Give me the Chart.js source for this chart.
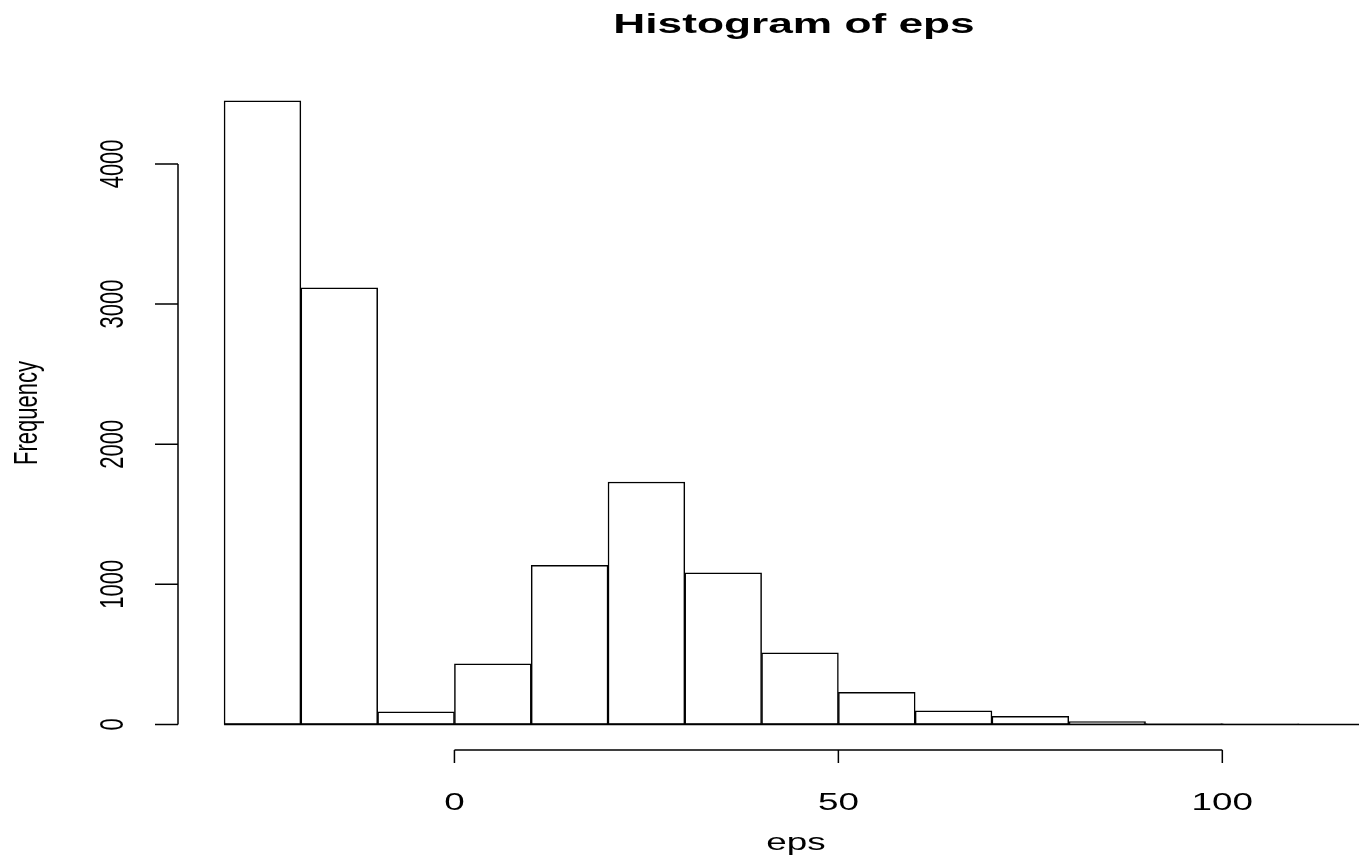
<!DOCTYPE html>
<html lang="en">
<head>
    <meta charset="UTF-8">
    <title>Histogram of eps</title>
    <script src="https://cdn.jsdelivr.net/npm/chart.js@4.4.1/dist/chart.umd.min.js"></script>
    <style>
        html, body { margin: 0; padding: 0; background: #ffffff; }
        #wrap { width: 1359px; height: 862px; }
    </style>
</head>
<body>
    <div id="wrap"><canvas id="hist" width="1359" height="862"></canvas></div>
    <script>
        // bin left edges (width 10) and counts
        const binStarts = [-30, -20, -10, 0, 10, 20, 30, 40, 50, 60, 70, 80, 90, 100];
        const counts = [4450, 3115, 91, 432, 1136, 1730, 1083, 512, 230, 98, 58, 20, 7, 5];
        const binWidth = 10;
        const xTicks = [0, 50, 100];
        const yTicks = [0, 1000, 2000, 3000, 4000];

        const FONT = "'Liberation Sans', Arial, sans-serif";

        // draws text squeezed/stretched horizontally like the original image
        function stretchedText(ctx, text, x, y, sx, rotate) {
            ctx.save();
            ctx.translate(x, y);
            ctx.scale(sx, 1);
            if (rotate) ctx.rotate(-Math.PI / 2);
            ctx.fillText(text, 0, 0);
            ctx.restore();
        }

        const rAxes = {
            id: 'rAxes',
            afterDraw(chart) {
                const ctx = chart.ctx;
                const xs = chart.scales.x;
                const ys = chart.scales.y;
                const area = chart.chartArea;
                ctx.save();
                ctx.strokeStyle = '#000';
                ctx.fillStyle = '#000';
                ctx.lineWidth = 1.5;

                // baseline of zero-height bins
                const y0 = ys.getPixelForValue(0);
                ctx.beginPath();
                ctx.moveTo(xs.getPixelForValue(binStarts[0]), y0);
                ctx.lineTo(area.right, y0);
                ctx.stroke();

                // x axis, R style
                const ax = area.bottom;
                ctx.beginPath();
                ctx.moveTo(xs.getPixelForValue(xTicks[0]), ax);
                ctx.lineTo(xs.getPixelForValue(xTicks[xTicks.length - 1]), ax);
                xTicks.forEach(t => {
                    const px = xs.getPixelForValue(t);
                    ctx.moveTo(px, ax);
                    ctx.lineTo(px, ax + 13);
                });
                ctx.stroke();
                ctx.font = '23px ' + FONT;
                ctx.textAlign = 'center';
                ctx.textBaseline = 'alphabetic';
                xTicks.forEach(t => {
                    stretchedText(ctx, String(t), xs.getPixelForValue(t), 810, 1.6, false);
                });

                // y axis
                const ay = area.left;
                ctx.beginPath();
                ctx.moveTo(ay, ys.getPixelForValue(yTicks[0]));
                ctx.lineTo(ay, ys.getPixelForValue(yTicks[yTicks.length - 1]));
                yTicks.forEach(t => {
                    const py = ys.getPixelForValue(t);
                    ctx.moveTo(ay, py);
                    ctx.lineTo(ay - 23, py);
                });
                ctx.stroke();
                ctx.font = '22px ' + FONT;
                ctx.textBaseline = 'middle';
                yTicks.forEach(t => {
                    stretchedText(ctx, String(t), 114, ys.getPixelForValue(t), 1.5, true);
                });

                // axis titles
                stretchedText(ctx, 'Frequency', 28, (area.top + area.bottom) / 2, 1.5, true);
                ctx.font = '23px ' + FONT;
                ctx.textBaseline = 'alphabetic';
                stretchedText(ctx, 'eps', 796, 850, 1.6, false);

                // main title
                ctx.font = 'bold 28px ' + FONT;
                stretchedText(ctx, 'Histogram of eps', 794, 33, 1.58, false);
                ctx.restore();
            }
        };

        const ctx = document.getElementById('hist').getContext('2d');
        new Chart(ctx, {
            type: 'bar',
            data: {
                datasets: [{
                    label: 'eps',
                    data: binStarts.map((b, i) => ({ x: b + binWidth / 2, y: counts[i] })),
                    backgroundColor: '#ffffff',
                    borderColor: '#000000',
                    borderWidth: 1.5,
                    borderSkipped: false,
                    barPercentage: 1,
                    categoryPercentage: 1
                }]
            },
            options: {
                responsive: false,
                animation: false,
                layout: { padding: { left: 178, right: 0, top: 76, bottom: 112 } },
                plugins: {
                    legend: { display: false },
                    tooltip: { enabled: false }
                },
                scales: {
                    x: { type: 'linear', offset: false, min: -36, max: 117.8, display: false },
                    y: { min: -182, max: 4627, display: false }
                }
            },
            plugins: [rAxes]
        });
    </script>
</body>
</html>
